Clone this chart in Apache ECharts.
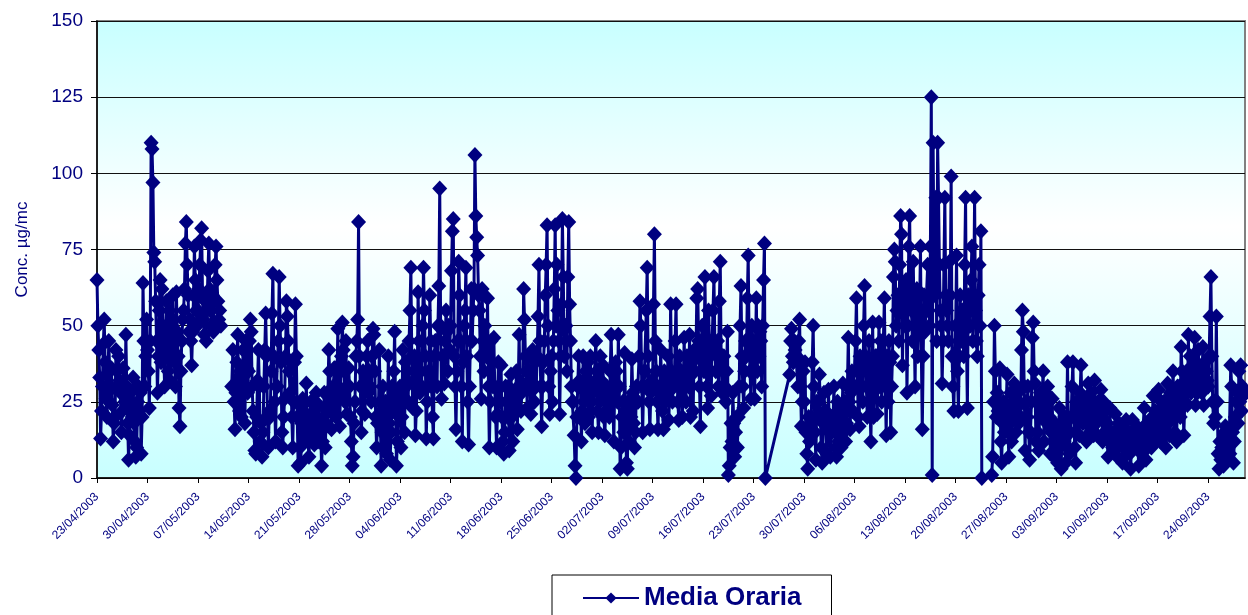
<!DOCTYPE html>
<html>
<head>
<meta charset="utf-8">
<script src="https://cdn.jsdelivr.net/npm/echarts@6/dist/echarts.min.js"></script>
<style>html,body{margin:0;padding:0;background:#fff;}#chart{width:1248px;height:615px;}</style>
</head>
<body>
<div id="chart"></div>
<script>
// Tick labels (one per week, starting 23/04/2003 = day 0)
const dateLabels = ["23/04/2003","30/04/2003","07/05/2003","14/05/2003","21/05/2003","28/05/2003","04/06/2003","11/06/2003","18/06/2003","25/06/2003","02/07/2003","09/07/2003","16/07/2003","23/07/2003","30/07/2003","06/08/2003","13/08/2003","20/08/2003","27/08/2003","03/09/2003","10/09/2003","17/09/2003","24/09/2003"];
const yTicks = [0,25,50,75,100,125,150];
const seriesName = "Media Oraria";

// Values read through each day (evenly spaced within the day), one row per day.
// null = gap (line broken), 'x' = missing (line connected across)
const apr = [ // 23/04 - 30/04 (day 0-7)
[65,50,42,33,13,22,30,44],[52,38,26,20,28,45,36,30],[36,24,12,18,20,42,35,30],[40,32,28,15,22,36,30,25],
[47,30,18,6,14,28,24,20],[33,18,12,7,10,25,30,22],[28,8,20,64,45,30,40,52],[42,35,23,45,110,108,97,74]
];
const may = [ // 01/05 - 31/05 (day 8-38)
[71,58,45,28,40,55,65,38],[62,50,40,30,48,58,45,35],[55,32,42,50,60,45,38,30],[61,48,40,23,17,35,45,52],
[55,62,77,84,70,60,48,52],[45,37,48,60,76,65,55,50],[55,62,70,78,82,60,52,47],[58,45,55,68,77,62,55,50],
[60,48,58,70,76,65,58,52],[55,50,null,null,null,null],[null,null,null,null,30,42],[25,16,28,38,47,30,22,35],
[20,32,42,30,18,45,36,28],[35,45,52,48,30,22,15,9],[8,20,32,42,30,12,18,7],[15,30,42,54,40,20,10,22],
[20,35,54,67,40,25,12,30],[30,45,66,50,38,15,10,20],[26,40,58,53,45,35,28,38],[20,10,25,38,57,40,20,4],
[24,10,5,18,26,20,12,15],[31,20,12,7,15,25,18,12],[22,11,20,28,18,12,24,18],[15,4,12,20,28,10,18,22],
[28,42,35,25,16,22,30,36],[36,20,30,49,30,17,28,40],[51,42,35,25,45,21,30,36],[30,20,12,4,7,18,25,40],
[45,52,84,40,30,15,22,35],[30,21,32,40,45,28,35,30],[25,40,49,47,35,20,10,18]
];
const jun = [ // 01/06 - 30/06 (day 39-68)
[20,42,25,4,15,30,22,10],[25,8,20,40,18,6,15,30],[22,35,48,25,4,12,28,20],[30,10,20,42,25,15,38,30],
[35,25,45,55,69,40,23,32],[40,14,22,30,61,45,28,35],[30,50,69,55,40,13,25,30],[35,60,45,30,20,13,40,45],
[45,30,50,63,95,50,26,40],[40,31,45,55,48,35,50,42],[50,68,81,85,40,30,16,35],[45,71,60,45,30,12,38,50],
[55,69,40,25,11,30,45,62],[45,55,62,106,86,79,73,60],[55,40,26,62,45,35,50,42],[40,59,30,10,25,45,38,30],
[46,30,20,10,21,38,30,25],[37,20,12,8,15,30,25,20],[30,9,20,34,20,12,28,22],[25,35,16,30,47,30,22,28],
[30,62,52,40,35,23,40,32],[35,21,30,42,30,25,38,30],[40,53,70,45,30,17,30,38],[45,60,70,83,50,30,21,35],
[40,25,45,62,83,50,70,55],[45,21,40,57,85,66,40,50],[50,35,66,84,57,45,30,25],[25,14,4,0,20,30,40,32],
[30,12,22,40,25,18,35,28],[38,20,32,40,25,15,28,30]
];
const jul = [ // 01/07 - 31/07 (day 69-99)
[30,45,35,22,15,25,40,32],[28,37,20,14,22,30,22,25],[20,35,47,35,25,12,30,38],[35,25,47,30,3,10,20,25],
[15,41,22,5,3,25,12,18],[20,39,28,18,10,15,30,25],[25,40,58,50,30,15,30,35],[35,55,69,40,25,16,28,32],
[30,57,80,45,35,25,16,28],[30,42,30,22,16,35,25,30],[28,40,19,30,57,35,25,32],[30,45,57,35,25,19,40,35],
[35,20,30,46,30,25,40,32],[30,47,20,30,38,22,42,35],[40,59,62,45,30,17,45,50],[50,35,66,45,30,23,55,45],
[40,27,45,55,66,45,35,42],[45,30,58,71,40,28,35,40],[30,25,35,48,1,4,10,18],[12,28,18,7,15,20,10,20],
[30,50,63,40,30,23,35,45],[40,59,73,45,35,26,50,45],[45,26,40,59,35,50,40,48],[45,30,50,65,77,0,'x','x'],
['x','x','x','x','x','x'],['x','x','x','x','x','x'],['x','x','x','x','x','x'],
[34,45,49,40,38,45,42,40],[40,30,45,52,30,17,25,35],[25,38,15,8,3,20,12,18],[20,38,50,30,15,6,25,20]
];
const aug = [ // 01/08 - 31/08 (day 100-130)
[25,34,20,10,5,18,28,22],[22,8,18,29,15,7,20,15],[18,30,20,10,7,25,12,20],[20,10,22,31,15,25,12,18],
[30,46,25,16,28,35,22,30],[30,45,59,35,20,17,40,30],[35,25,50,63,40,30,20,35],[45,25,12,30,51,20,35,40],
[40,21,35,51,30,45,25,35],[35,59,30,14,40,25,45,38],[15,30,40,66,75,71,50,55],[60,45,70,86,80,37,55,62],
[50,65,28,50,76,86,60,55],[45,71,50,30,55,62,40,50],[55,76,40,16,40,60,48,55],[55,70,60,50,76,125,1,110],
[70,60,92,45,110,92,70,55],[50,31,45,70,92,60,55,50],[45,71,60,99,40,30,22,40],[50,73,35,22,40,60,45,55],
[55,40,70,92,45,23,60,50],[50,65,76,45,60,92,55,45],[40,60,70,50,81,0,'x','x'],['x','x','x','x','x','x'],
[1,7,25,50,35,20,28,22],[20,36,12,5,18,25,15,20],[22,34,15,7,18,28,12,20],[25,31,22,15,20,28,18,24],
[20,42,55,48,30,9,25,20],[30,15,6,15,25,46,51,35],[31,12,25,15,9,20,28,22]
];
const sep = [ // 01/09 - 29/09 (day 131-159)
[22,35,12,20,28,18,30,25],[20,8,15,26,12,7,18,15],[15,5,12,23,10,3,18,12],[12,20,5,15,38,15,8,15],
[20,30,38,20,10,5,25,22],[20,14,28,37,25,18,22,25],[25,12,20,31,20,15,28,22],[22,14,32,22,18,14,25,20],
[20,29,20,12,25,15,22,18],[18,7,15,23,12,15,10,14],[15,21,12,7,10,18,12,15],[12,5,12,18,10,19,8,12],
[15,8,3,10,19,10,14,12],[10,17,10,4,12,15,8,12],[12,23,15,6,18,10,15,18],[18,10,20,27,15,22,12,18],
[20,29,20,12,25,15,22,25],[25,10,20,31,18,14,28,22],[20,35,25,15,28,12,30,28],[30,20,43,35,25,14,25,32],
[35,24,47,30,40,28,35,30],[30,46,24,38,28,42,35,30],[35,28,43,24,38,30,35,32],[30,40,53,66,40,25,18,25],
[20,53,25,8,3,12,6,10],[10,4,15,17,10,6,12,8],[8,37,30,15,5,12,20,25],[28,18,35,25,37,22,30,27],
[28]
];

const months = [[apr,0],[may,8],[jun,39],[jul,69],[aug,100],[sep,131]];
const points = [];
months.forEach(([rows, start]) => {
  rows.forEach((row, r) => {
    row.forEach((v, k) => {
      if (v === 'x') return;
      points.push([start + r + k / row.length, v]);
    });
  });
});

const navy = '#000080';
const chart = echarts.init(document.getElementById('chart'), null, {renderer: 'canvas'});
chart.setOption({
  animation: false,
  backgroundColor: '#ffffff',
  textStyle: {fontFamily: 'Arial, "Liberation Sans", sans-serif'},
  grid: {
    left: 97, right: 3, top: 21, bottom: 137,
    show: true,
    borderColor: '#808080', borderWidth: 2,
    backgroundColor: new echarts.graphic.LinearGradient(0, 0, 0, 1, [
      {offset: 0, color: '#c8ffff'},
      {offset: 0.45, color: '#ffffff'},
      {offset: 1, color: '#c8ffff'}
    ])
  },
  xAxis: {
    type: 'value', min: 0, max: 159.1, interval: 7,
    axisLine: {show: true, onZero: false, lineStyle: {color: '#000', width: 1.5}},
    axisTick: {show: true, length: 5, lineStyle: {color: '#000'}},
    splitLine: {show: false},
    axisLabel: {
      rotate: 45, margin: 17, fontSize: 12, color: navy,
      showMaxLabel: false,
      formatter: v => {
        const i = Math.round(v / 7);
        return Math.abs(v - i * 7) < 1e-6 && dateLabels[i] ? dateLabels[i] : '';
      }
    }
  },
  yAxis: {
    type: 'value', min: yTicks[0], max: yTicks[yTicks.length - 1], interval: 25,
    name: 'Conc. µg/mc', nameLocation: 'middle', nameGap: 66,
    nameTextStyle: {color: navy, fontSize: 17},
    axisLine: {show: true, lineStyle: {color: '#000', width: 1.5}},
    axisTick: {show: true, length: 6, lineStyle: {color: '#000'}},
    splitLine: {show: true, lineStyle: {color: '#111', width: 1}},
    axisLabel: {color: navy, fontSize: 19, margin: 14}
  },
  legend: {
    left: 552, top: 575,
    padding: [10, 30, 22, 30],
    borderColor: '#000', borderWidth: 1,
    itemWidth: 56, itemHeight: 14,
    textStyle: {color: navy, fontSize: 26, fontWeight: 'bold'},
    data: [seriesName]
  },
  series: [{
    name: seriesName,
    type: 'line',
    data: points,
    connectNulls: false,
    symbol: 'diamond', symbolSize: [15, 16],
    showSymbol: true,
    lineStyle: {color: navy, width: 3},
    itemStyle: {color: navy, borderWidth: 0},
    emphasis: {disabled: true}
  }]
});
</script>
</body>
</html>
